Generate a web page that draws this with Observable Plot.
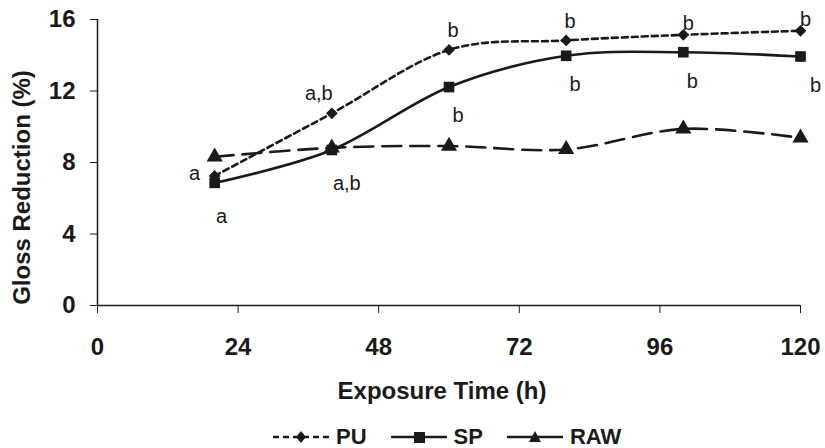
<!DOCTYPE html>
<html>
<head>
<meta charset="utf-8">
<script src="https://cdn.jsdelivr.net/npm/d3@7"></script>
<script src="https://cdn.jsdelivr.net/npm/@observablehq/plot@0.6"></script>
<style>
  body { margin: 0; background: #fff; font-family: "Liberation Sans", Arial, sans-serif; overflow: hidden; }
  #chart svg { display: block; }
  #legend { display: flex; justify-content: flex-start; margin-left: 273px; margin-top: 6px; height: 22px; line-height: 22px; font-weight: bold; font-size: 22px; color: #1a1a1a; }
  #legend .item { display: flex; align-items: center; gap: 7px; margin-right: 24px; }
  #legend svg { display: block; }
</style>
</head>
<body>
<div id="chart"></div>
<div id="legend"></div>
<script>
const hours = [20, 40, 60, 80, 100, 120];
const puValues = [7.25, 10.75, 14.3, 14.83, 15.14, 15.37];
const spValues = [6.86, 8.7, 12.22, 13.97, 14.17, 13.93];
const rawValues = [8.32, 8.82, 8.92, 8.73, 9.88, 9.38];
const puLetters = ["a", "a,b", "b", "b", "b", "b"];
const spLetters = ["a", "a,b", "b", "b", "b", "b"];
const xTicks = [0, 24, 48, 72, 96, 120];
const yTicks = [0, 4, 8, 12, 16];

const series = [
  {name: "PU", values: puValues, dash: "6,4", symbol: "diamond2", r: 5.3},
  {name: "SP", values: spValues, dash: null, symbol: "square", r: 6},
  {name: "RAW", values: rawValues, dash: "19,9", symbol: "triangle", r: 6}
];
const rows = series.flatMap(s => hours.map((h, i) => ({series: s.name, h, v: s.values[i]})));
const pu = rows.filter(d => d.series === "PU").map((d, i) => ({...d, letter: puLetters[i], i}));
const sp = rows.filter(d => d.series === "SP").map((d, i) => ({...d, letter: spLetters[i], i}));

const ink = "#1a1a1a";
const marks = [];
for (const s of series) {
  const data = rows.filter(d => d.series === s.name);
  marks.push(Plot.line(data, {x: "h", y: "v", curve: "cardinal", stroke: ink, strokeWidth: 2.6, strokeDasharray: s.dash}));
  marks.push(Plot.dot(data, {x: "h", y: "v", symbol: () => s.symbol, r: s.r, fill: ink, stroke: "none"}));
}
const lbl = (data, filter, dx, dy) => Plot.text(data.filter(filter), {x: "h", y: "v", text: "letter", dx, dy, fontSize: 20, fill: ink});
marks.push(
  lbl(pu, d => d.i === 0, -20, -2),
  lbl(pu, d => d.i === 1, -13, -20),
  lbl(pu, d => d.i === 2 || d.i === 3, 4, -19),
  lbl(pu, d => d.i >= 4, 5, -11),
  lbl(sp, d => d.i === 0, 7, 34),
  lbl(sp, d => d.i === 1, 15, 34),
  lbl(sp, d => d.i >= 2 && d.i <= 4, 9, 29),
  lbl(sp, d => d.i === 5, 15, 29),
  Plot.ruleX([0], {stroke: ink, strokeWidth: 1.5}),
  Plot.ruleY([0], {stroke: ink, strokeWidth: 1.5}),
  Plot.axisX({ticks: xTicks, tickSize: 8, tickPadding: 24, label: null, fontSize: 24, fontWeight: "bold", fill: ink, stroke: ink}),
  Plot.axisY({ticks: yTicks, tickSize: 7, tickPadding: 15, label: null, fontSize: 24, fontWeight: "bold", fill: ink, stroke: ink}),
  Plot.text(["Exposure Time (h)"], {frameAnchor: "bottom", dx: -7, dy: 93, fontSize: 24, fontWeight: "bold", fill: ink}),
  Plot.text(["Gloss Reduction (%)"], {frameAnchor: "left", textAnchor: "middle", dx: -75, dy: 25, rotate: -90, fontSize: 24, fontWeight: "bold", fill: ink})
);

const chart = Plot.plot({
  width: 825,
  height: 420,
  marginLeft: 97,
  marginRight: 25,
  marginTop: 19,
  marginBottom: 115,
  style: {fontFamily: "'Liberation Sans', Arial, sans-serif", background: "#fff", overflow: "visible"},
  x: {domain: [0, 120]},
  y: {domain: [0, 16]},
  marks
});
document.getElementById("chart").appendChild(chart);

// legend
const legend = document.getElementById("legend");
const sym = {
  diamond2: '<path d="M28,4 L33,10 L28,16 L23,10 Z" fill="' + ink + '"/>',
  square: '<rect x="23" y="5" width="11" height="11" fill="' + ink + '"/>',
  triangle: '<path d="M28,4 L34,15 L22,15 Z" fill="' + ink + '"/>'
};
for (const s of series) {
  const item = document.createElement("div");
  item.className = "item";
  const dash = s.name === "PU" ? ' stroke-dasharray="6,4"' : "";
  item.innerHTML = '<svg width="56" height="20"><line x1="0" y1="10" x2="56" y2="10" stroke="' + ink + '" stroke-width="2.6"' + dash + '/>' + sym[s.symbol] + '</svg><span>' + s.name + '</span>';
  legend.appendChild(item);
}
</script>
</body>
</html>
